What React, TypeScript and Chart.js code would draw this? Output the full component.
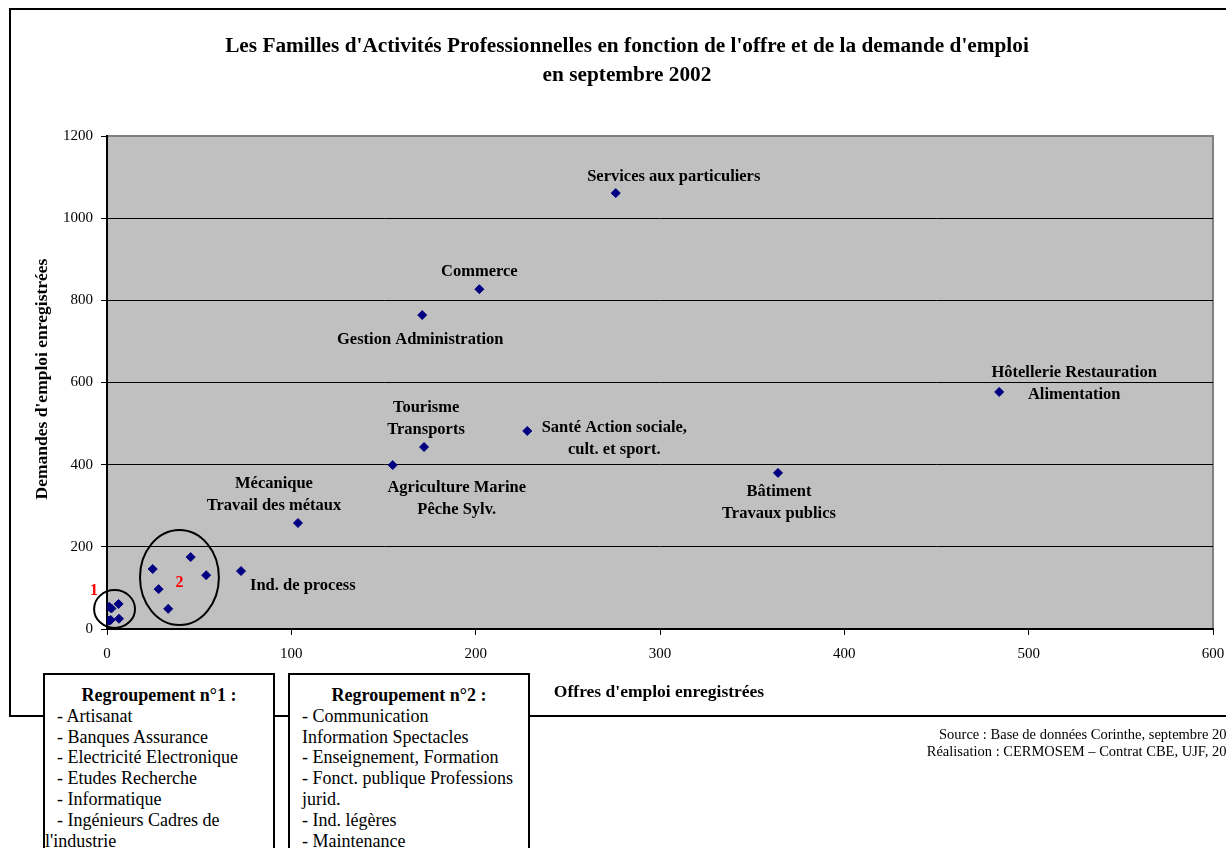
import React, { useEffect, useRef } from "react";
import { Chart, registerables } from "chart.js";

Chart.register(...registerables);

// ---------- data ----------
const familyNames = [
  "Services aux particuliers",
  "Commerce",
  "Gestion Administration",
  "Hôtellerie Restauration\nAlimentation",
  "Santé Action sociale,\ncult. et sport.",
  "Tourisme\nTransports",
  "Agriculture Marine\nPêche Sylv.",
  "Bâtiment\nTravaux publics",
  "Mécanique\nTravail des métaux",
  "Ind. de process",
];
const familyOffres = [276, 202, 171, 484, 228, 172, 155, 364, 103.6, 72.7];
const familyDemandes = [1061, 827, 764, 577, 482, 443, 399, 380, 258, 141];

// Regroupement n°1 (small families near the origin)
const group1Offres = [1.2, 2.4, 6.3, 2.0, 6.5, 1.0];
const group1Demandes = [54, 50, 61, 22, 25, 20];

// Regroupement n°2
const group2Offres = [24.8, 45.4, 53.8, 28.0, 33.2];
const group2Demandes = [146, 175, 131, 97, 49];

const xTicksMax = 600;
const yTicksMax = 1200;

const group1Items = [
  "- Artisanat",
  "- Banques Assurance",
  "- Electricité Electronique",
  "- Etudes Recherche",
  "- Informatique",
  "- Ingénieurs Cadres de",
  "l'industrie",
];
const group2Items = [
  "- Communication",
  "Information Spectacles",
  "- Enseignement, Formation",
  "- Fonct. publique Professions",
  "jurid.",
  "- Ind. légères",
  "- Maintenance",
];

// ---------- layout of annotations (pixels) ----------
const labelOffsets = [
  { dx: 58, dy: -16, align: "center" },
  { dx: 0, dy: -18, align: "center" },
  { dx: -2, dy: 25, align: "center" },
  { dx: 75, dy: -19, align: "center" },
  { dx: 87, dy: -3, align: "center" },
  { dx: 2, dy: -39, align: "center" },
  { dx: 64, dy: 23, align: "center" },
  { dx: 1, dy: 19, align: "center" },
  { dx: -24, dy: -39, align: "center" },
  { dx: 9, dy: 15, align: "left" },
];
// group ellipses in data units: [cx, cy, rx, ry]
const groupEllipses = [
  [4.1, 48.7, 11.1, 46],
  [39.3, 125.4, 21.4, 115.6],
];

const SERIF = '"Liberation Serif", "Times New Roman", Times, serif';
const NAVY = "#000080";

const decorPlugin = {
  id: "decor",
  beforeDraw(chart: any) {
    const { ctx, chartArea: a } = chart;
    ctx.save();
    ctx.fillStyle = "#ffffff";
    ctx.fillRect(0, 0, chart.width, chart.height);
    // outer frame
    ctx.strokeStyle = "#000";
    ctx.lineWidth = 2;
    ctx.strokeRect(10, 9, 1400, 707);
    // plot background
    ctx.fillStyle = "#C0C0C0";
    ctx.fillRect(a.left, a.top, a.right - a.left, a.bottom - a.top);
    // grey plot border (top/right)
    ctx.strokeStyle = "#808080";
    ctx.lineWidth = 2;
    ctx.beginPath();
    ctx.moveTo(a.left, a.top);
    ctx.lineTo(a.right, a.top);
    ctx.lineTo(a.right, a.bottom);
    ctx.stroke();
    // title
    ctx.fillStyle = "#000";
    ctx.font = `bold 21.3px ${SERIF}`;
    ctx.textAlign = "center";
    ctx.textBaseline = "middle";
    ctx.fillText(
      "Les Familles d'Activités Professionnelles en fonction de l'offre et de la demande d'emploi",
      627,
      46
    );
    ctx.fillText("en septembre 2002", 627, 75);
    // axis titles
    ctx.font = `bold 17.5px ${SERIF}`;
    ctx.fillText("Offres d'emploi enregistrées", 659, 692);
    ctx.save();
    ctx.translate(42, 379);
    ctx.rotate(-Math.PI / 2);
    ctx.fillText("Demandes d'emploi enregistrées", 0, 0);
    ctx.restore();
    ctx.restore();
  },
  afterDatasetsDraw(chart: any) {
    const { ctx } = chart;
    const xs = chart.scales.x;
    const ys = chart.scales.y;
    ctx.save();
    // ellipses
    ctx.strokeStyle = "#000";
    ctx.lineWidth = 2;
    groupEllipses.forEach(([cx, cy, rx, ry]) => {
      const px = xs.getPixelForValue(cx);
      const py = ys.getPixelForValue(cy);
      const prx = xs.getPixelForValue(cx + rx) - px;
      const pry = py - ys.getPixelForValue(cy + ry);
      ctx.beginPath();
      ctx.ellipse(px, py, prx, pry, 0, 0, Math.PI * 2);
      ctx.stroke();
    });
    // group numbers
    ctx.fillStyle = "#FF0000";
    ctx.font = `bold 16px ${SERIF}`;
    ctx.textAlign = "center";
    ctx.textBaseline = "middle";
    {
      const [cx, cy, rx, ry] = groupEllipses[0];
      const px = xs.getPixelForValue(cx - rx);
      const py = ys.getPixelForValue(cy + ry);
      ctx.fillText("1", px, py + 1);
    }
    {
      const [cx, cy] = groupEllipses[1];
      ctx.fillText("2", xs.getPixelForValue(cx), ys.getPixelForValue(cy) + 5);
    }
    // family labels
    ctx.fillStyle = "#000";
    ctx.font = `bold 16.5px ${SERIF}`;
    familyNames.forEach((name, i) => {
      const px = xs.getPixelForValue(familyOffres[i]);
      const py = ys.getPixelForValue(familyDemandes[i]);
      const o = labelOffsets[i];
      ctx.textAlign = o.align;
      name.split("\n").forEach((line, k) => {
        ctx.fillText(line, px + o.dx, py + o.dy + k * 22);
      });
    });
    ctx.restore();
  },
};

const pointStyleOpts = {
  pointStyle: "rectRot",
  pointRadius: 4.5,
  pointHoverRadius: 4.5,
  backgroundColor: NAVY,
  borderColor: NAVY,
  borderWidth: 1,
  showLine: false,
};

export default function App() {
  const canvasRef = useRef<HTMLCanvasElement | null>(null);

  useEffect(() => {
    if (!canvasRef.current) return;
    const toPts = (xs: number[], ys: number[]) => xs.map((x, i) => ({ x, y: ys[i] }));
    const chart = new Chart(canvasRef.current, {
      type: "scatter",
      data: {
        datasets: [
          { label: "Familles", data: toPts(familyOffres, familyDemandes), ...pointStyleOpts },
          { label: "Regroupement n°1", data: toPts(group1Offres, group1Demandes), ...pointStyleOpts },
          { label: "Regroupement n°2", data: toPts(group2Offres, group2Demandes), ...pointStyleOpts },
        ],
      } as any,
      options: {
        responsive: false,
        animation: false,
        devicePixelRatio: 1,
        layout: { padding: { top: 136, left: 0, right: 13, bottom: 0 } },
        plugins: {
          legend: { display: false },
          tooltip: { enabled: false },
          title: { display: false },
        },
        scales: {
          x: {
            type: "linear",
            min: 0,
            max: xTicksMax,
            ticks: {
              stepSize: 100,
              color: "#000",
              font: { family: SERIF, size: 15 },
              padding: 10,
              maxRotation: 0,
              autoSkip: false,
              callback: (v: any) => String(v),
            },
            grid: {
              drawOnChartArea: false,
              tickColor: "#000",
              tickLength: 6,
              tickWidth: 1,
            },
            border: { color: "#000", width: 2 },
            afterFit: (s: any) => {
              s.height = 219;
              s.paddingLeft = 0;
              s.paddingRight = 0;
            },
          },
          y: {
            type: "linear",
            min: 0,
            max: yTicksMax,
            ticks: {
              stepSize: 200,
              color: "#000",
              font: { family: SERIF, size: 15 },
              padding: 8,
              callback: (v: any) => String(v),
            },
            grid: {
              color: (c: any) => (c.tick && c.tick.value === yTicksMax ? "rgba(0,0,0,0)" : "#000"),
              lineWidth: 1,
              tickColor: "#000",
              tickLength: 6,
              tickWidth: 1,
            },
            border: { color: "#000", width: 2 },
            afterFit: (s: any) => {
              s.width = 107;
            },
          },
        },
      } as any,
      plugins: [decorPlugin as any],
    });
    return () => chart.destroy();
  }, []);

  const boxStyle: React.CSSProperties = {
    position: "absolute",
    top: 673,
    height: 200,
    background: "#fff",
    border: "2px solid #000",
    boxSizing: "border-box",
    fontFamily: SERIF,
    fontSize: 18,
    lineHeight: "20.8px",
    color: "#000",
    paddingTop: 10,
  };

  return (
    <div
      style={{
        position: "absolute",
        left: 0,
        top: 0,
        width: 1226,
        height: 848,
        overflow: "hidden",
        background: "#fff",
      }}
    >
      <canvas ref={canvasRef} width={1226} height={848} style={{ position: "absolute", left: 0, top: 0 }} />
      <div style={{ ...boxStyle, left: 43, width: 232 }}>
        <div style={{ fontWeight: "bold", textAlign: "center" }}>Regroupement n°1 :</div>
        {group1Items.map((t, i) => (
          <div key={i} style={{ paddingLeft: t.startsWith("-") ? 12 : 0, whiteSpace: "nowrap" }}>
            {t}
          </div>
        ))}
      </div>
      <div style={{ ...boxStyle, left: 288, width: 242 }}>
        <div style={{ fontWeight: "bold", textAlign: "center" }}>Regroupement n°2 :</div>
        {group2Items.map((t, i) => (
          <div key={i} style={{ paddingLeft: 12, whiteSpace: "nowrap" }}>
            {t}
          </div>
        ))}
      </div>
      <div
        style={{
          position: "absolute",
          right: -15,
          top: 726,
          textAlign: "right",
          fontFamily: SERIF,
          fontSize: 14.5,
          lineHeight: "17px",
          color: "#000",
          whiteSpace: "nowrap",
        }}
      >
        <div>Source : Base de données Corinthe, septembre 2002</div>
        <div>Réalisation : CERMOSEM – Contrat CBE, UJF, 2002</div>
      </div>
    </div>
  );
}
